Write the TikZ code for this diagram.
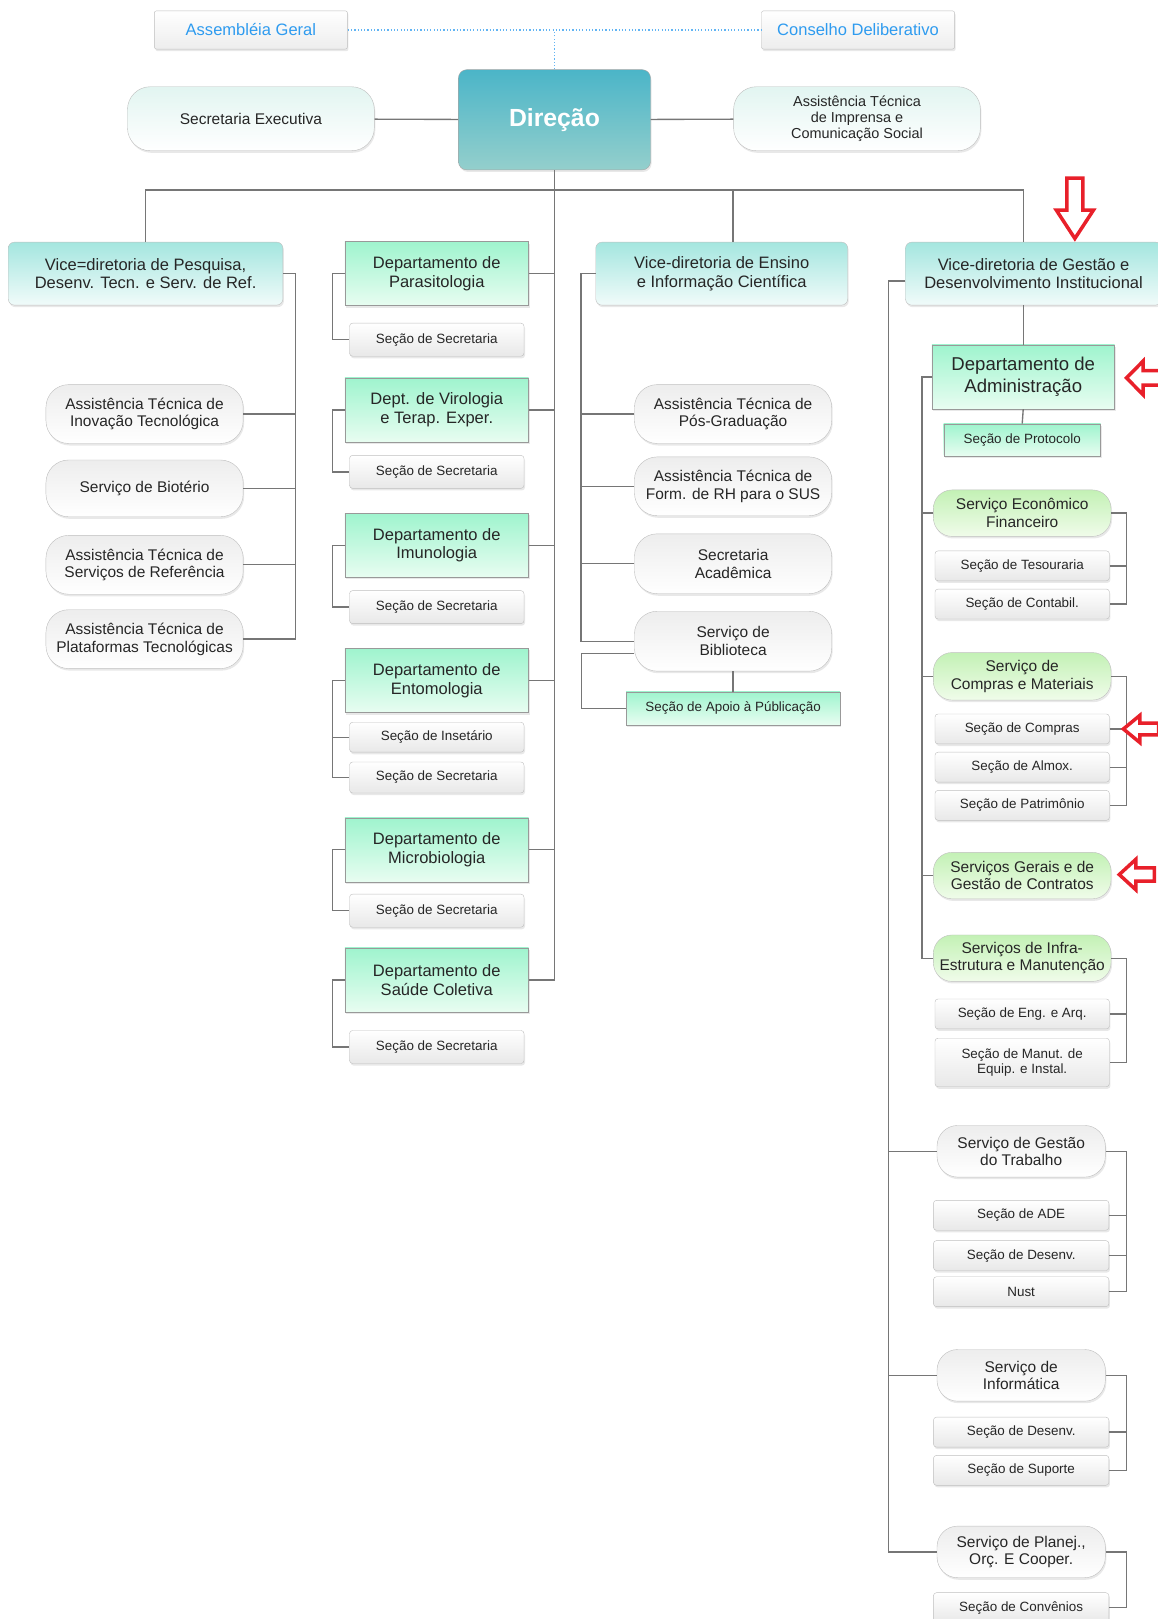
\documentclass[tikz,border=0pt]{standalone}
\usepackage{fontspec}
\setmainfont{Liberation Sans}
\usetikzlibrary{positioning,shadows}
\definecolor{azul}{HTML}{2E9BEF}
\definecolor{cinza}{HTML}{767676}
\definecolor{vermelho}{HTML}{E8202A}
\definecolor{dirtopo}{HTML}{4BB5C8}
\definecolor{dirbase}{HTML}{94CFCC}
\definecolor{vicetopo}{HTML}{A4E6DF}
\definecolor{vicebase}{HTML}{F1FBFA}
\definecolor{deptopo}{HTML}{9FF4CE}
\definecolor{depbase}{HTML}{E8FDF1}
\definecolor{verdetopo}{HTML}{C3F1B5}
\definecolor{verdebase}{HTML}{F0FCEA}
\definecolor{menta}{HTML}{E2F5F1}
\newcommand{\setavermelha}{\draw[vermelho, line width=3.4pt, fill=white] (0,0) -- (16,-15) -- (16,-6.5) -- (34,-6.5) -- (34,6.5) -- (16,6.5) -- (16,15) -- cycle;}
\tikzset{
	caixa/.style={draw=black!25, inner sep=2pt, align=center, text=black!85,
		drop shadow={opacity=0.18, shadow xshift=1pt, shadow yshift=-2pt}},
	topo/.style={caixa, rounded corners=2pt, top color=white, bottom color=black!7,
		minimum width=187pt, minimum height=37pt, text=azul, font=\fontsize{16}{18}\selectfont},
	direcao/.style={caixa, draw=black!35, rounded corners=8pt, top color=dirtopo, bottom color=dirbase,
		minimum width=186pt, minimum height=97pt, text=white, font=\fontsize{24}{26}\selectfont\bfseries},
	pilula/.style={caixa, rounded corners=22pt, top color=black!7, bottom color=white,
		minimum width=191pt, minimum height=57pt, font=\fontsize{15}{17}\selectfont},
	pilulamenta/.style={pilula, top color=menta, bottom color=white, minimum width=239pt, minimum height=62pt},
	vice/.style={caixa, rounded corners=6pt, top color=vicetopo, bottom color=vicebase,
		minimum height=61pt, font=\fontsize{16}{18}\selectfont},
	depto/.style={caixa, draw=black!40, top color=deptopo, bottom color=depbase,
		minimum width=178pt, minimum height=62pt, font=\fontsize{16}{18}\selectfont},
	secao/.style={caixa, rounded corners=3pt, top color=white, bottom color=black!9,
		minimum width=169pt, minimum height=32pt, font=\fontsize{13}{15}\selectfont},
	secaoverde/.style={secao, draw=black!40, rounded corners=0pt, top color=deptopo, bottom color=depbase},
	servverde/.style={pilula, rounded corners=18pt, top color=verdetopo, bottom color=verdebase,
		minimum width=172pt, minimum height=45pt},
	linha/.style={draw=cinza, line width=1.3pt},
	pontilhada/.style={draw=azul!75, line width=1.2pt, dotted}
}
\begin{document}
\begin{tikzpicture}[x=1pt, y=-1pt]
	\useasboundingbox (0,0) rectangle (1121,1568);

	% topo
	\node[topo] (ag) at (243,29) {Assembléia Geral};
	\node[topo] (cd) at (831,29) {Conselho Deliberativo};
	\node[direcao] (dir) at (537,116) {Direção};
	\node[pilulamenta] (secex) at (243,115) {Secretaria Executiva};
	\node[pilulamenta, font=\fontsize{14}{15.5}\selectfont] (atimp) at (830,115) {Assistência Técnica\\de Imprensa e\\Comunicação Social};

	\draw[pontilhada] (ag) -- (cd);
	\draw[pontilhada] (dir.north) -- (dir.north |- ag);
	\draw[linha] (secex) -- (dir);
	\draw[linha] (dir) -- (atimp);

	% vice-diretorias
	\node[vice, minimum width=266pt] (vpes) at (141,265) {Vice=diretoria de Pesquisa,\\Desenv. Tecn. e Serv. de Ref.};
	\node[vice, minimum width=244pt] (vens) at (699,265) {Vice-diretoria de Ensino\\e Informação Científica};
	\node[vice, minimum width=248pt] (vges) at (1001,265) {Vice-diretoria de Gestão e\\Desenvolvimento Institucional};

	% pesquisa
	\node[pilula] (ati) at (140,401) {Assistência Técnica de\\Inovação Tecnológica};
	\node[pilula, minimum height=55pt] (sbio) at (140,473) {Serviço de Biotério};
	\node[pilula] (atsr) at (140,547) {Assistência Técnica de\\Serviços de Referência};
	\node[pilula] (atpt) at (140,619) {Assistência Técnica de\\Plataformas Tecnológicas};

	\draw[linha] (vpes.east) -- ++(12,0) coordinate (espP) |- (atpt.east);
	\foreach \n in {ati,sbio,atsr}
		\draw[linha] (\n.east) -- (\n.east -| espP);

	% departamentos
	\node[depto] (dpar) at (423,265) {Departamento de\\Parasitologia};
	\node[secao] (ssec1) at (423,329) {Seção de Secretaria};
	\node[depto] (dvir) at (423,397) {Dept. de Virologia\\e Terap. Exper.};
	\node[secao] (ssec2) at (423,457) {Seção de Secretaria};
	\node[depto] (dimu) at (423,528) {Departamento de\\Imunologia};
	\node[secao] (ssec3) at (423,588) {Seção de Secretaria};
	\node[depto] (dent) at (423,659) {Departamento de\\Entomologia};
	\node[secao, minimum height=29pt] (sins) at (423,714) {Seção de Insetário};
	\node[secao, minimum height=30pt] (ssec4) at (423,753) {Seção de Secretaria};
	\node[depto] (dmic) at (423,823) {Departamento de\\Microbiologia};
	\node[secao] (ssec5) at (423,882) {Seção de Secretaria};
	\node[depto] (dsc) at (423,949) {Departamento de\\Saúde Coletiva};
	\node[secao] (ssec6) at (423,1014) {Seção de Secretaria};

	\draw[linha] (dir.south) |- (dsc.east);
	\foreach \d/\s in {dpar/ssec1,dvir/ssec2,dimu/ssec3,dent/ssec4,dmic/ssec5,dsc/ssec6}{
		\draw[linha] (\d.east) -- (\d.east -| dir.south);
		\draw[linha] (\d.west) -- ++(-12,0) |- (\s.west);
	}
	\draw[linha] (sins.west) -- ++(-16.5,0);

	% ensino
	\node[pilula] (atpg) at (710,401) {Assistência Técnica de\\Pós-Graduação};
	\node[pilula] (atrh) at (710,471) {Assistência Técnica de\\Form. de RH para o SUS};
	\node[pilula, minimum height=58pt] (sacad) at (710,546) {Secretaria\\Acadêmica};
	\node[pilula, minimum height=58pt] (sbib) at (710,621) {Serviço de\\Biblioteca};
	\node[secaoverde, minimum width=207pt] (sapoio) at (710,686) {Seção de Apoio à Públicação};

	\draw[linha] (vens.west) -- ++(-14,0) coordinate (espE) |- (sbib.west);
	\foreach \n in {atpg,atrh,sacad}
		\draw[linha] (\n.west) -- (\n.west -| espE);
	\draw[linha] (sbib.south) -- (sapoio.north);
	\draw[linha] ([yshift=-12pt]sbib.west) -- ++(-51,0) |- (sapoio.west);

	% gestao
	\node[depto, minimum width=177pt, font=\fontsize{18}{21}\selectfont] (dadm) at (991,365) {Departamento de\\Administração};
	\node[secaoverde, minimum width=152pt, minimum height=31pt] (sprot) at (990,426) {Seção de Protocolo};
	\node[servverde] (secf) at (990,497) {Serviço Econômico\\Financeiro};
	\node[secao, minimum height=29pt] (stes) at (990,548) {Seção de Tesouraria};
	\node[secao, minimum height=29pt] (scont) at (990,585) {Seção de Contabil.};
	\node[servverde, minimum height=46pt] (scm) at (990,655) {Serviço de\\Compras e Materiais};
	\node[secao, minimum height=29pt] (scompras) at (990,706) {Seção de Compras};
	\node[secao, minimum height=29pt] (salm) at (990,743) {Seção de Almox.};
	\node[secao, minimum height=29pt] (spat) at (990,780) {Seção de Patrimônio};
	\node[servverde] (sger) at (990,848) {Serviços Gerais e de\\Gestão de Contratos};
	\node[servverde] (sinfra) at (990,928) {Serviços de Infra-\\Estrutura e Manutenção};
	\node[secao, minimum height=29pt] (seng) at (990,982) {Seção de Eng. e Arq.};
	\node[secao, minimum height=47pt] (smanut) at (990,1029) {Seção de Manut. de\\Equip. e Instal.};

	\node[pilula, minimum width=163pt, minimum height=50pt, rounded corners=20pt] (sgt) at (989,1115) {Serviço de Gestão\\do Trabalho};
	\node[secao, minimum width=170pt, minimum height=29pt] (sade) at (989,1177) {Seção de ADE};
	\node[secao, minimum width=170pt, minimum height=29pt] (sdes1) at (989,1216) {Seção de Desenv.};
	\node[secao, minimum width=170pt, minimum height=29pt] (snust) at (989,1251) {Nust};
	\node[pilula, minimum width=163pt, minimum height=50pt, rounded corners=20pt] (sinf) at (989,1332) {Serviço de\\Informática};
	\node[secao, minimum width=170pt, minimum height=29pt] (sdes2) at (989,1387) {Seção de Desenv.};
	\node[secao, minimum width=170pt, minimum height=29pt] (ssup) at (989,1424) {Seção de Suporte};
	\node[pilula, minimum width=163pt, minimum height=50pt, rounded corners=20pt] (splan) at (989,1503) {Serviço de Planej.,\\Orç. E Cooper.};
	\node[secao, minimum width=170pt, minimum height=29pt] (sconv) at (989,1557) {Seção de Convênios};

	% barramento da direcao
	\coordinate (barra) at (537,184);
	\draw[linha] (vpes.north) |- (barra) -| (dadm.north |- vges.north);
	\draw[linha] (sbib.north |- vens.north) -- (sbib.north |- barra);

	\draw[linha] (dadm.north) -- (dadm.north |- vges.south);
	\draw[linha] (dadm.south) -- (sprot.north);
	\draw[linha] ([yshift=-7pt]vges.west) -- ++(-16,0) coordinate (espG) |- (splan.west);
	\foreach \n in {sgt,sinf}
		\draw[linha] (\n.west) -- (\n.west -| espG);
	\draw[linha] (dadm.west) -- ++(-9.5,0) coordinate (espA) |- (sinfra.west);
	\foreach \n in {secf,scm,sger}
		\draw[linha] (\n.west) -- (\n.west -| espA);

	% colchetes da direita
	\draw[linha] (secf.east) -- ++(15,0) coordinate (colA) |- (scont.east);
	\draw[linha] (stes.east) -- (stes.east -| colA);
	\draw[linha] (scm.east) -- ++(15,0) |- (spat.east);
	\foreach \n in {scompras,salm}
		\draw[linha] (\n.east) -- (\n.east -| colA);
	\draw[linha] (sinfra.east) -- ++(15,0) |- (smanut.east);
	\draw[linha] (seng.east) -- (seng.east -| colA);
	\draw[linha] (sgt.east) -- ++(20.5,0) |- (snust.east);
	\foreach \n in {sade,sdes1}
		\draw[linha] (\n.east) -- (\n.east -| colA);
	\draw[linha] (sinf.east) -- ++(20.5,0) |- (ssup.east);
	\draw[linha] (sdes2.east) -- (sdes2.east -| colA);
	\draw[linha] (splan.east) -- ++(20.5,0) |- (sconv.east);

	% setas vermelhas
	\begin{scope}[shift={(1041,231)}, rotate = 90, xscale=1.72, yscale=1.2]
		\setavermelha
	\end{scope}
	\begin{scope}[shift={(1091,366)}, yscale=1.08]
		\setavermelha
	\end{scope}
	\begin{scope}[shift={(1088,706)}, yscale=0.88]
		\setavermelha
	\end{scope}
	\begin{scope}[shift={(1084,847)}, yscale=0.98]
		\setavermelha
	\end{scope}

\end{tikzpicture}
\end{document}
